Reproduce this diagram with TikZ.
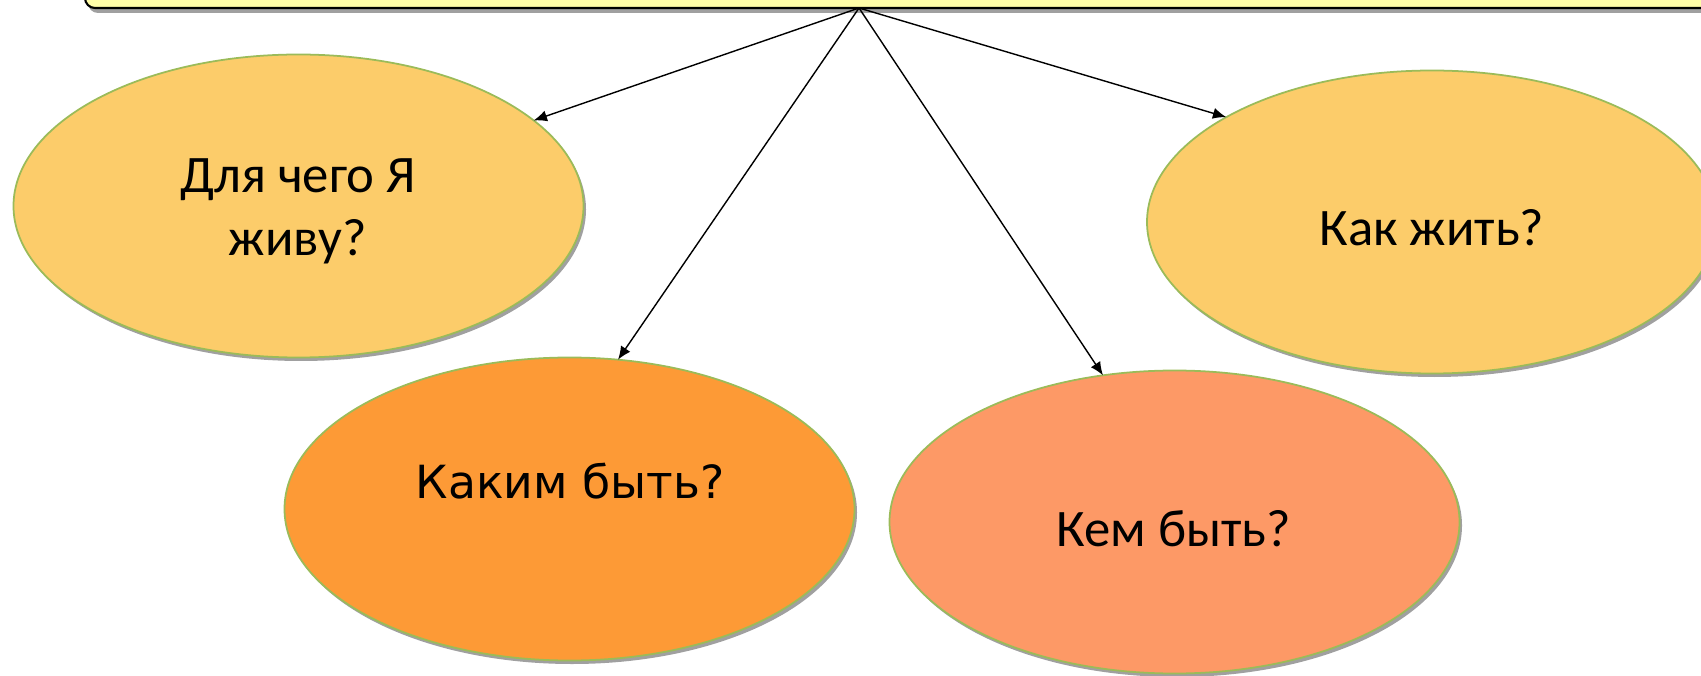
\documentclass[tikz,border=0pt]{standalone}
\usepackage{fontspec}
\setmainfont{Carlito}
\newfontfamily\widefont{DejaVu Sans}
\usetikzlibrary{shapes.geometric,shadows,arrows.meta}

\definecolor{headfill}{RGB}{255,253,168}
\definecolor{sunny}{RGB}{252,204,106}
\definecolor{tangerine}{RGB}{253,154,54}
\definecolor{salmon}{RGB}{253,153,102}
\definecolor{rimgreen}{RGB}{155,187,89}
\definecolor{shade}{RGB}{160,160,160}

\tikzset{
  bubble/.style={ellipse, draw=rimgreen, line width=0.5pt,
    minimum width=5.7cm, minimum height=3.03cm, inner sep=0pt, outer sep=0pt,
    drop shadow={shadow xshift=0.025cm, shadow yshift=-0.035cm, fill=shade, opacity=1}},
  qtext/.style={align=center, font=\fontsize{15}{17.8}\selectfont},
  link/.style={-{Latex[length=3.8pt,width=3.2pt]}, line width=0.4pt},
}

\begin{document}
\begin{tikzpicture}

    \clip (0,0) rectangle (17.01,-6.76);

    %-------------------------
    % Riquadro in alto
    %-------------------------
    \node[draw=black, line width=0.6pt, fill=headfill, rounded corners=0.1cm,
      minimum width=16.9cm, minimum height=0.7cm, inner sep=0pt,
      drop shadow={shadow xshift=0.03cm, shadow yshift=-0.05cm, fill=shade, opacity=1}]
      (head) at (9.3,0.27) {};
    \coordinate (hub) at (8.59,-0.08);

    %-------------------------
    % Ellissi
    %-------------------------
    \node[bubble, fill=sunny] (dlya) at (2.985,-2.06) {};
    \node[bubble, fill=tangerine] (kakim) at (5.695,-5.09) {};
    \node[bubble, fill=salmon] (kem) at (11.745,-5.22) {};
    \node[bubble, fill=sunny] (kak) at (14.32,-2.22) {};

    % Testi
    \node[qtext] (tdlya) at (2.98,-2.115) {Для чего Я\\живу?};
    \node[qtext, font=\widefont\fontsize{13}{16}\selectfont] (tkakim) at (5.70,-4.81) {Каким быть?};
    \node[qtext] (tkem) at (11.74,-5.29) {Кем быть?};
    \node[qtext] (tkak) at (14.32,-2.28) {Как жить?};

    %-------------------------
    % Frecce
    %-------------------------
    \draw[link] (hub) -- (dlya.20);
    \draw[link] (hub) -- (kakim.72);
    \draw[link] (hub) -- (kem.116);
    \draw[link] (hub) -- (kak.153);

\end{tikzpicture}
\end{document}
